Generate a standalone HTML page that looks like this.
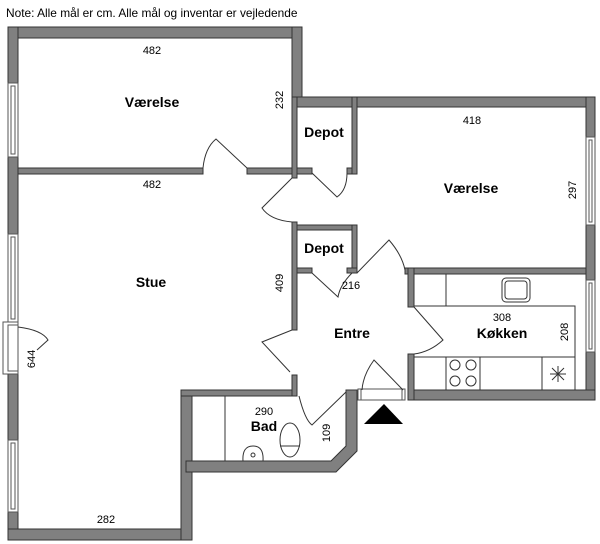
<!DOCTYPE html>
<html><head><meta charset="utf-8"><style>
html,body{margin:0;padding:0;background:#fff;}
svg{display:block;font-family:"Liberation Sans",sans-serif;}
</style></head><body>
<svg width="600" height="544" viewBox="0 0 600 544" xmlns="http://www.w3.org/2000/svg">
<text x="6" y="17" font-size="11.9" fill="#000">Note: Alle mål er cm. Alle mål og inventar er vejledende</text>
<g fill="#808080" stroke="#333" stroke-width="1">
<rect x="8" y="27" width="294" height="11"/>
<rect x="8" y="27" width="10" height="513"/>
<rect x="8" y="529" width="184" height="11"/>
<rect x="181" y="390" width="11" height="150"/>
<rect x="181" y="390" width="116" height="6"/>
<rect x="292" y="27" width="10" height="70"/>
<rect x="292" y="97" width="303" height="10"/>
<rect x="586" y="97" width="9" height="303"/>
<rect x="408" y="390" width="187" height="10"/>
<polygon points="186,461 331,461 346,446 346,390 357,390 357,451 336,472 186,472"/>
<rect x="18" y="168" width="185" height="6"/>
<rect x="247" y="168" width="45" height="6"/>
<rect x="292" y="97" width="5" height="81"/>
<rect x="297" y="168" width="15" height="6"/>
<rect x="347" y="168" width="10" height="6"/>
<rect x="352" y="97" width="5" height="77"/>
<rect x="292" y="225" width="65" height="5"/>
<rect x="292" y="222" width="5" height="108"/>
<rect x="352" y="225" width="5" height="48"/>
<rect x="297" y="268" width="15" height="5"/>
<rect x="347" y="268" width="10" height="5"/>
<rect x="292" y="375" width="5" height="21"/>
<rect x="405" y="268" width="181" height="6"/>
<rect x="408" y="268" width="6" height="39"/>
<rect x="408" y="354" width="6" height="46"/>
</g>
<g fill="#fff" stroke="#555" stroke-width="1">
<rect x="8" y="83" width="10" height="74"/><rect x="11" y="86" width="4" height="68"/>
<rect x="8" y="234" width="10" height="88"/><rect x="11" y="237" width="4" height="82"/>
<rect x="8" y="440" width="10" height="72"/><rect x="11" y="443" width="4" height="66"/>
<rect x="3" y="322" width="15" height="52"/><rect x="8" y="325" width="10" height="46"/>
<rect x="586" y="137" width="9" height="88"/><rect x="589" y="140" width="3" height="82"/>
<rect x="586" y="280" width="9" height="72"/><rect x="589" y="283" width="3" height="66"/>
<rect x="358" y="389" width="47" height="11"/><line x1="361" y1="389" x2="361" y2="400"/><line x1="402" y1="389" x2="402" y2="400"/>
</g>
<g fill="none" stroke="#333" stroke-width="1">
<path d="M247,168 L216,139 Q205,148 203,168"/>
<path d="M312,173 L337,197 Q347,190 347,173"/>
<path d="M292,178 L262,208 Q270,220 292,222"/>
<path d="M312,273 L338,297 Q340,285 352,273"/>
<path d="M357,273 L389,240 Q402,255 405,270"/>
<path d="M292,330 L262,342 L290,372"/>
<path d="M18,327 Q42,330 48,340 L37,350"/>
<path d="M414,307 L443,340 Q430,352 414,354"/>
<path d="M299,396 Q305,420 312,425 L346,392"/>
<path d="M403,390 L374,360 Q363,375 362,390"/>
</g>
<polygon points="364,424 403,424 384,404" fill="#000"/>
<g fill="none" stroke="#333" stroke-width="1">
<path d="M414,306 L575,306 L575,390"/>
<line x1="446" y1="274" x2="446" y2="306"/>
<path d="M414,357 L575,357"/>
<line x1="446" y1="357" x2="446" y2="390"/>
<line x1="480" y1="357" x2="480" y2="390"/>
<line x1="542" y1="357" x2="542" y2="390"/>
<rect x="502" y="278" width="28" height="24" rx="4"/><rect x="505" y="281" width="22" height="18" rx="3"/>
<circle cx="455" cy="365" r="5"/><circle cx="471" cy="365" r="5"/><circle cx="455" cy="381" r="5"/><circle cx="471" cy="381" r="5"/>
<path d="M550,374 h16 M558,366 v16 M552,368 l12,12 M564,368 l-12,12"/>
<line x1="225" y1="396" x2="225" y2="461"/>
<path d="M243,461 Q242,446 253,446 Q264,446 263,461"/>
<circle cx="253" cy="455" r="2"/>
<ellipse cx="290" cy="440" rx="10" ry="17"/>
<line x1="280" y1="446" x2="300" y2="446"/>
</g>
<g font-size="11" fill="#000" text-anchor="middle">
<text x="152" y="54">482</text>
<text x="152" y="188">482</text>
<text x="472" y="124">418</text>
<text x="502" y="321">308</text>
<text x="351" y="289">216</text>
<text x="264" y="415">290</text>
<text x="106" y="523">282</text>
<text transform="translate(283,100) rotate(-90)">232</text>
<text transform="translate(576,190) rotate(-90)">297</text>
<text transform="translate(568,332) rotate(-90)">208</text>
<text transform="translate(283,283) rotate(-90)">409</text>
<text transform="translate(35,359) rotate(-90)">644</text>
<text transform="translate(330,433) rotate(-90)">109</text>
</g>
<g font-size="14" font-weight="bold" fill="#000" text-anchor="middle">
<text x="152" y="107">Værelse</text>
<text x="471" y="193">Værelse</text>
<text x="324" y="137">Depot</text>
<text x="324" y="253">Depot</text>
<text x="151" y="287">Stue</text>
<text x="352" y="338">Entre</text>
<text x="502" y="338">Køkken</text>
<text x="264" y="431">Bad</text>
</g>
</svg>
</body></html>
